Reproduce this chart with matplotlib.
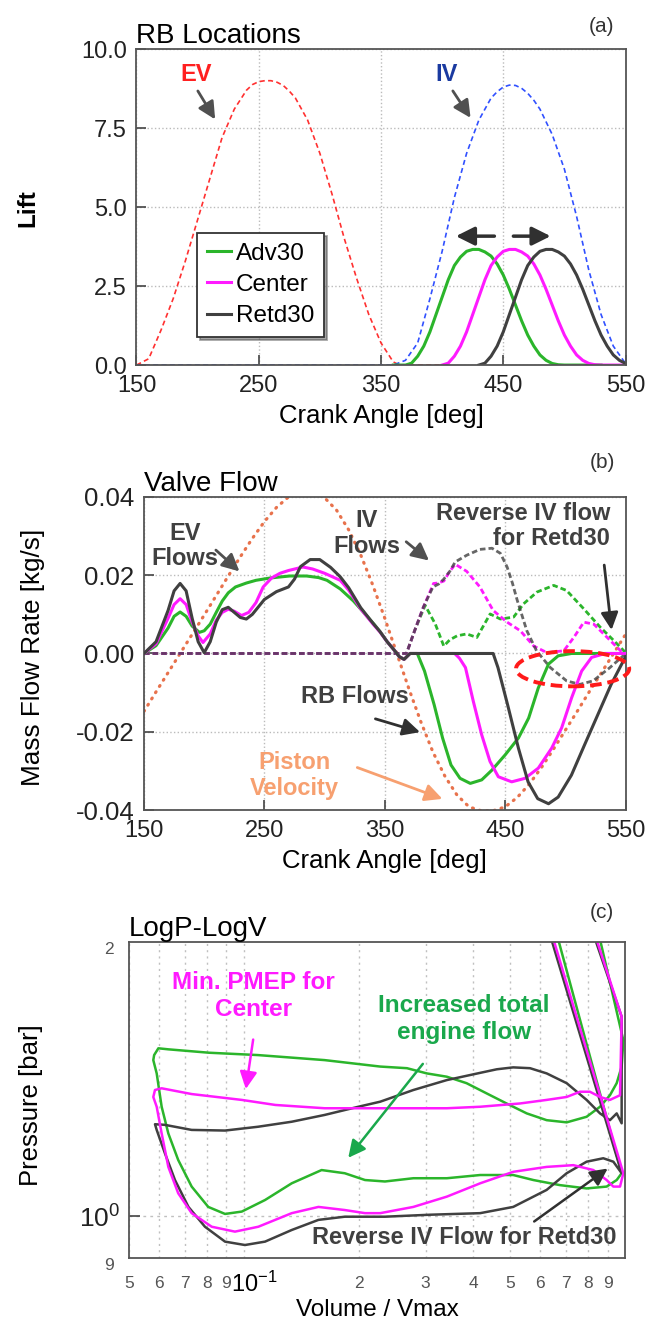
import matplotlib
matplotlib.use("Agg")
import matplotlib.pyplot as plt
from matplotlib.patches import Ellipse
from matplotlib.ticker import FixedLocator, FixedFormatter, NullFormatter

plt.rcParams["font.family"] = ["Liberation Sans", "DejaVu Sans"]
plt.rcParams["axes.unicode_minus"] = False

# ---- (a) valve lift vs crank angle ----
ev_ang = [150, 160, 170, 180, 190, 200, 210, 220, 230, 240, 245, 250, 255, 260, 265, 270,
          275, 280, 290, 300, 310, 320, 330, 340, 350, 360, 365, 380, 400]
ev_lift = [0, 0.2, 1.1, 2.1, 3.3, 4.6, 5.9, 7.2, 8.1, 8.7, 8.88, 8.97, 9.0, 9.0, 8.95,
           8.85, 8.67, 8.45, 7.75, 6.7, 5.4, 4.0, 2.75, 1.6, 0.7, 0.1, 0, 0, 0]
iv_ang = [150, 360, 370, 380, 390, 400, 410, 420, 430, 440, 445, 450, 455, 460, 465, 470,
          475, 480, 490, 500, 510, 520, 530, 540, 550]
iv_lift = [0, 0, 0.15, 0.7, 2.1, 3.6, 5.3, 6.7, 7.75, 8.45, 8.65, 8.8, 8.86, 8.85, 8.76,
           8.6, 8.38, 8.1, 7.3, 6.2, 4.7, 3.0, 1.6, 0.6, 0.05]

adv_ang = [360, 370, 375, 380, 385, 390, 395, 400, 405, 410, 415, 420, 425, 430, 435, 440,
           445, 450, 455, 460, 465, 470, 475, 480, 485, 490, 495, 500, 530]
adv_lift = [0, 0, 0.06, 0.28, 0.6, 1.05, 1.6, 2.15, 2.7, 3.15, 3.42, 3.6, 3.66, 3.66, 3.58,
            3.45, 3.2, 2.85, 2.4, 1.9, 1.4, 0.95, 0.6, 0.32, 0.15, 0.05, 0.01, 0, 0]
cen_ang = [400, 405, 410, 415, 420, 425, 430, 435, 440, 445, 450, 455, 460, 465, 470, 475,
           480, 485, 490, 495, 500, 505, 510, 515, 520, 525, 530, 550]
cen_lift = [0, 0.06, 0.28, 0.6, 1.05, 1.6, 2.15, 2.7, 3.15, 3.42, 3.6, 3.66, 3.66, 3.58,
            3.45, 3.2, 2.85, 2.4, 1.9, 1.4, 0.95, 0.6, 0.32, 0.15, 0.05, 0.01, 0, 0]
ret_ang = [430, 435, 440, 445, 450, 455, 460, 465, 470, 475, 480, 485, 490, 495, 500, 505,
           510, 515, 520, 525, 530, 535, 540, 545, 550]
ret_lift = [0, 0.06, 0.28, 0.6, 1.05, 1.6, 2.15, 2.7, 3.15, 3.42, 3.6, 3.66, 3.66, 3.58,
            3.45, 3.2, 2.85, 2.4, 1.9, 1.4, 0.95, 0.6, 0.32, 0.15, 0.05]

# ---- (b) exhaust valve flow (solid) ----
ev_adv_ang = [150, 160, 170, 175, 180, 185, 190, 196, 200, 205, 210, 215, 220, 226, 235,
              243, 255, 271, 285, 295, 302, 313, 324, 333, 341, 346, 352, 358, 362, 366,
              371, 377, 383, 391, 398, 405, 412.5, 421, 430.5, 439, 450, 461, 469.5,
              477.5, 486, 494, 505, 550]
ev_adv_flow = [0, 0.002, 0.0065, 0.0095, 0.0106, 0.0095, 0.007, 0.0054, 0.0058, 0.0075,
               0.0105, 0.0134, 0.0155, 0.017, 0.018, 0.0187, 0.0193, 0.0198, 0.0198,
               0.0194, 0.0187, 0.0165, 0.0134, 0.0103, 0.0075, 0.0056, 0.003, 0.0008,
               -0.0008, -0.0015, 0, 0, -0.0045, -0.0131, -0.0216, -0.0285, -0.0319,
               -0.0332, -0.0323, -0.0298, -0.0259, -0.0216, -0.0165, -0.0088, -0.0027,
               -0.0006, 0, 0]
ev_cen_ang = [150, 160, 170, 175, 180, 185, 190, 195, 199, 205, 210, 215, 220, 225, 231,
              237, 243, 249, 256, 263, 270, 282, 290, 300, 313, 320, 330, 340, 346, 352,
              358, 362, 366, 371, 408, 412, 417, 423.5, 430.5, 437.4, 444.3, 455.4, 466.5,
              477.5, 488.6, 496.9, 505.2, 513.5, 521.8, 533, 550]
ev_cen_flow = [0, 0.0025, 0.009, 0.0125, 0.014, 0.0125, 0.008, 0.0045, 0.0028, 0.005,
               0.0085, 0.0105, 0.0113, 0.0108, 0.0097, 0.0105, 0.013, 0.017, 0.0193,
               0.0205, 0.0212, 0.0221, 0.0216, 0.0205, 0.0187, 0.0162, 0.0114, 0.0076,
               0.0055, 0.003, 0.0008, -0.0008, -0.0015, 0, 0, -0.0012, -0.0036, -0.0122,
               -0.0208, -0.0276, -0.0315, -0.0328, -0.0319, -0.0293, -0.0242, -0.019,
               -0.0113, -0.0045, -0.001, 0, 0]
ev_ret_ang = [150, 160, 170, 175, 180, 185, 190, 195, 200, 205, 210, 215, 220, 225, 230,
              235, 240, 250, 260, 270, 275, 280, 288, 296, 305, 313, 320, 330, 340, 346,
              352, 358, 362, 366, 371, 440, 444, 452, 461, 469, 477, 486, 494, 505, 516,
              527, 538, 550]
ev_ret_flow = [0, 0.003, 0.011, 0.016, 0.0179, 0.016, 0.009, 0.003, 0.0002, 0.003, 0.008,
               0.0112, 0.0118, 0.0105, 0.0092, 0.0088, 0.010, 0.0138, 0.0158, 0.017,
               0.019, 0.0222, 0.024, 0.024, 0.022, 0.0196, 0.0168, 0.0117, 0.0078,
               0.0056, 0.003, 0.0008, -0.0008, -0.0015, 0, 0, -0.0036, -0.0131, -0.0242,
               -0.0328, -0.0371, -0.0384, -0.0367, -0.0311, -0.0233, -0.0156, -0.0079,
               -0.0008]

# ---- (b) intake valve flow (dashed) ----
iv_adv_ang = [150, 368, 375, 383.5, 392, 399, 404, 410, 418, 426.5, 437.5, 446, 457,
              465.3, 476.4, 490.3, 501, 515.3, 529, 540.2, 548.5, 550]
iv_adv_flow = [0, 0, 0.006, 0.0123, 0.0075, 0.0019, 0.0035, 0.0045, 0.005, 0.0041,
               0.0101, 0.0088, 0.0093, 0.0127, 0.0157, 0.0174, 0.0161, 0.0114, 0.0067,
               0.0033, 0.0007, 0]
iv_cen_ang = [150, 368, 375, 382, 390.5, 394, 399, 404, 408.5, 418, 429, 440, 451.6,
              462.6, 473.7, 484.8, 498.7, 507, 515.3, 523.6, 534.7, 545.8, 550]
iv_cen_flow = [0, 0, 0.006, 0.0118, 0.0179, 0.018, 0.0185, 0.021, 0.0228, 0.021, 0.017,
               0.011, 0.008, 0.0058, 0.0019, 0.0002, 0.0007, 0.0041, 0.008, 0.0075,
               0.0041, 0.0007, 0]
iv_ret_ang = [150, 368, 375, 382, 390, 395, 399, 404, 408.5, 418, 429, 439, 446, 451.6,
              456, 460, 468, 476, 487.5, 501, 512, 523, 537, 548, 550]
iv_ret_flow = [0, 0, 0.006, 0.0118, 0.017, 0.0178, 0.019, 0.021, 0.0234, 0.0251, 0.0266,
               0.0269, 0.0256, 0.0221, 0.018, 0.0136, 0.0058, 0.0007, -0.0036, -0.007,
               -0.0079, -0.007, -0.0036, -0.0006, 0]

# piston velocity (scaled to the flow axis)
pis_ang = [150, 160, 170, 180, 190, 200, 210, 220, 230, 240, 250, 260, 270, 280, 290,
           300, 310, 320, 330, 340, 350, 360, 370, 380, 390, 400, 410, 420, 430, 440,
           450, 460, 470, 480, 490, 500, 510, 520, 530, 540, 550]
pis_vel = [-0.0148, -0.0098, -0.0049, 0, 0.0049, 0.0098, 0.0148, 0.0198, 0.0247, 0.0294,
           0.0337, 0.0373, 0.040, 0.0415, 0.0415, 0.0398, 0.0366, 0.0316, 0.0252, 0.0175,
           0.009, 0, -0.009, -0.0175, -0.0252, -0.0314, -0.0362, -0.0392, -0.0402,
           -0.0402, -0.0392, -0.0368, -0.0334, -0.0292, -0.0245, -0.0196, -0.0147,
           -0.0097, -0.0049, 0, 0.0049]

# ---- (c) log P - log V loops (V/Vmax, bar) ----
adv_loop = [(0.84, 2.1), (0.99, 1.56), (0.98, 1.46), (0.951, 1.40), (0.913, 1.358),
            (0.86, 1.319), (0.793, 1.286), (0.703, 1.268), (0.623, 1.275), (0.5525, 1.297),
            (0.489, 1.33), (0.434, 1.364), (0.384, 1.40), (0.341, 1.423), (0.302, 1.435),
            (0.268, 1.454), (0.228, 1.46), (0.163, 1.484), (0.109, 1.503), (0.081, 1.512),
            (0.0634, 1.525), (0.0597, 1.529), (0.0582, 1.503), (0.0579, 1.484),
            (0.0591, 1.435), (0.0609, 1.319), (0.0634, 1.233), (0.0673, 1.153),
            (0.073, 1.078), (0.0807, 1.024), (0.0893, 1.006), (0.0988, 1.012),
            (0.1137, 1.042), (0.1336, 1.087), (0.160, 1.124), (0.184, 1.115), (0.208, 1.096),
            (0.2346, 1.092), (0.2785, 1.101), (0.341, 1.101), (0.417, 1.11), (0.509, 1.11),
            (0.575, 1.096), (0.675, 1.082), (0.793, 1.073), (0.895, 1.078), (0.951, 1.096),
            (0.98, 1.115), (0.65, 2.1)]
cen_loop = [(0.815, 2.1), (0.98, 1.656), (0.9704, 1.358), (0.913, 1.342), (0.86, 1.352),
            (0.809, 1.37), (0.762, 1.37), (0.703, 1.352), (0.623, 1.342), (0.5305, 1.33),
            (0.417, 1.319), (0.341, 1.314), (0.2785, 1.314), (0.228, 1.314), (0.163, 1.314),
            (0.121, 1.325), (0.0988, 1.342), (0.073, 1.362), (0.0609, 1.382), (0.0585, 1.376),
            (0.0579, 1.352), (0.0591, 1.319), (0.0609, 1.233), (0.0634, 1.133),
            (0.0673, 1.06), (0.073, 1.008), (0.0824, 0.974), (0.0948, 0.962), (0.1092, 0.974),
            (0.1336, 1.008), (0.157, 1.024), (0.184, 1.016), (0.208, 1.008), (0.228, 1.008),
            (0.2785, 1.024), (0.341, 1.051), (0.417, 1.087), (0.509, 1.119), (0.623, 1.133),
            (0.732, 1.138), (0.826, 1.124), (0.895, 1.096), (0.932, 1.078), (0.9704, 1.078),
            (0.99, 1.115), (0.63, 2.1)]
ret_loop = [(0.807, 2.1), (0.98, 1.656), (0.98, 1.265), (0.951, 1.297), (0.913, 1.275),
            (0.86, 1.297), (0.793, 1.342), (0.703, 1.40), (0.623, 1.435), (0.5635, 1.454),
            (0.509, 1.457), (0.461, 1.45), (0.417, 1.437), (0.341, 1.411), (0.2785, 1.376),
            (0.228, 1.336), (0.1998, 1.319), (0.163, 1.292), (0.1336, 1.27), (0.109, 1.254),
            (0.0893, 1.242), (0.073, 1.244), (0.0621, 1.26), (0.0585, 1.262), (0.0591, 1.244),
            (0.0621, 1.173), (0.066, 1.096), (0.0716, 1.024), (0.0791, 0.974),
            (0.0893, 0.938), (0.1007, 0.93), (0.1137, 0.938), (0.1336, 0.966), (0.157, 0.991),
            (0.184, 0.999), (0.2346, 0.999), (0.308, 1.004), (0.417, 1.008), (0.509, 1.024),
            (0.623, 1.069), (0.703, 1.115), (0.793, 1.148), (0.877, 1.158), (0.932, 1.148),
            (0.98, 1.115), (0.622, 2.1)]

cases = ["Adv30", "Center", "Retd30"]
GREEN, MAGENTA, GRAY = "#2bb52b", "#ff1aff", "#404040"

fig = plt.figure(figsize=(6.46, 13.27), dpi=100)


def style_axes(ax):
    for sp in ax.spines.values():
        sp.set_color("#555555")
        sp.set_linewidth(1.3)
    ax.tick_params(direction="in", length=7, width=1.2, color="#444444",
                   labelsize=17, pad=7, labelcolor="#222222")


# ================= (a) =================
ax1 = fig.add_axes([0.2113, 0.7249, 0.757, 0.2381])
style_axes(ax1)
ax1.plot(ev_ang, ev_lift, color="#ff3030", lw=1.2, dashes=(3, 2))
ax1.plot(iv_ang, iv_lift, color="#3050ff", lw=1.2, dashes=(3, 2))
ax1.plot(adv_ang, adv_lift, color=GREEN, lw=2.2, label=cases[0])
ax1.plot(cen_ang, cen_lift, color=MAGENTA, lw=2.2, label=cases[1])
ax1.plot(ret_ang, ret_lift, color=GRAY, lw=2.2, label=cases[2])
ax1.set_xlim(150, 550)
ax1.set_ylim(0, 10)
ax1.set_xticks([150, 250, 350, 450, 550])
ax1.set_yticks([0, 2.5, 5.0, 7.5, 10.0])
ax1.set_yticklabels(["0.0", "2.5", "5.0", "7.5", "10.0"])
ax1.grid(True, ls=":", color="#bbbbbb", lw=1)
ax1.set_xlabel("Crank Angle [deg]", fontsize=18.5, labelpad=5)
ax1.set_title("RB Locations", loc="left", fontsize=20, pad=4)
leg = ax1.legend(loc="upper left", bbox_to_anchor=(0.124, 0.418), borderaxespad=0,
                 fontsize=17.5, handlelength=1.0, handletextpad=0.2, labelspacing=0.38,
                 fancybox=False, shadow=True, borderpad=0.4)
leg.get_frame().set_edgecolor("#333333")
leg.get_frame().set_linewidth(1.3)
ax1.text(198.7, 9.2, "EV", color="#ff2020", fontsize=17, fontweight="bold", ha="center", va="center")
ax1.annotate("", xy=(215.5, 7.7), xytext=(199, 8.75),
             arrowprops=dict(arrowstyle="-|>", color="#505050", lw=2, mutation_scale=26))
ax1.text(404, 9.2, "IV", color="#1a3aa0", fontsize=17, fontweight="bold", ha="center", va="center")
ax1.annotate("", xy=(424.5, 7.75), xytext=(407.5, 8.75),
             arrowprops=dict(arrowstyle="-|>", color="#505050", lw=2, mutation_scale=26))
ax1.annotate("", xy=(409, 4.08), xytext=(445, 4.08),
             arrowprops=dict(arrowstyle="-|>", color="#303030", lw=2.5, mutation_scale=28))
ax1.annotate("", xy=(491, 4.08), xytext=(456, 4.08),
             arrowprops=dict(arrowstyle="-|>", color="#303030", lw=2.5, mutation_scale=28))

# ================= (b) =================
ax2 = fig.add_axes([0.2229, 0.3896, 0.7455, 0.2359])
style_axes(ax2)
ax2.tick_params(axis="y", labelsize=18.5)
ax2.plot(pis_ang, pis_vel, color="#e8724c", lw=2.3, dashes=(0.3, 2.0),
         dash_capstyle="round", zorder=2)
ax2.plot(iv_adv_ang, iv_adv_flow, color=GREEN, lw=2, dashes=(2, 1.1), zorder=3)
ax2.plot(iv_cen_ang, iv_cen_flow, color=MAGENTA, lw=2, dashes=(2, 1.1), zorder=3)
ax2.plot(iv_ret_ang, iv_ret_flow, color=GRAY, lw=2, dashes=(2, 1.1), alpha=0.8, zorder=3)
ax2.plot(ev_adv_ang, ev_adv_flow, color=GREEN, lw=2.2, zorder=4)
ax2.plot(ev_cen_ang, ev_cen_flow, color=MAGENTA, lw=2.2, zorder=4)
ax2.plot(ev_ret_ang, ev_ret_flow, color=GRAY, lw=2.2, zorder=4)
ax2.set_xlim(150, 550)
ax2.set_ylim(-0.04, 0.04)
ax2.set_xticks([150, 250, 350, 450, 550])
ax2.set_yticks([-0.04, -0.02, 0.0, 0.02, 0.04])
ax2.set_yticklabels(["-0.04", "-0.02", "0.00", "0.02", "0.04"])
ax2.grid(True, ls=":", color="#bbbbbb", lw=1)
ax2.set_xlabel("Crank Angle [deg]", fontsize=18.5, labelpad=5)
ax2.set_title("Valve Flow", loc="left", fontsize=20, pad=4)
ax2.add_patch(Ellipse((506, -0.0039), 94, 0.009, fill=False, edgecolor="#ff1a1a",
                      lw=2.8, ls=(0, (3, 1.5)), clip_on=False, zorder=6))

txt = dict(fontsize=17, fontweight="bold", color="#404040", ha="center", va="center",
           linespacing=1.15)
arr = dict(arrowstyle="-|>", color="#505050", lw=2, mutation_scale=26)
ax2.text(184, 0.0275, "EV\nFlows", **txt)
ax2.annotate("", xy=(231, 0.0205), xytext=(208, 0.0269), arrowprops=arr)
ax2.text(335, 0.0306, "IV\nFlows", **txt)
ax2.annotate("", xy=(388.5, 0.0233), xytext=(366, 0.029), arrowprops=arr)
ax2.text(537, 0.0326, "Reverse IV flow\nfor Retd30", fontsize=17, fontweight="bold",
         color="#404040", ha="right", va="center", multialignment="right", linespacing=1.15)
ax2.annotate("", xy=(538.6, 0.0053), xytext=(532, 0.0233),
             arrowprops=dict(arrowstyle="-|>", color="#303030", lw=2, mutation_scale=26))
ax2.text(325, -0.0109, "RB Flows", **txt)
ax2.annotate("", xy=(381.5, -0.0203), xytext=(340, -0.0165),
             arrowprops=dict(arrowstyle="-|>", color="#303030", lw=2, mutation_scale=26))
ax2.text(275, -0.0312, "Piston\nVelocity", fontsize=17, fontweight="bold", color="#f7a070",
         ha="center", va="center", linespacing=1.15)
ax2.annotate("", xy=(400, -0.0374), xytext=(325, -0.0289),
             arrowprops=dict(arrowstyle="-|>", color="#f7a070", lw=2, mutation_scale=26))

# ================= (c) =================
ax3 = fig.add_axes([0.1997, 0.052, 0.7678, 0.2381])
style_axes(ax3)
for loop, col in ((adv_loop, GREEN), (ret_loop, GRAY), (cen_loop, MAGENTA)):
    ax3.plot([v for v, p in loop], [p for v, p in loop], color=col, lw=1.8)
ax3.set_xscale("log")
ax3.set_yscale("log")
ax3.set_xlim(0.05, 1.0)
ax3.set_ylim(0.9, 2.0)

x_minor = [0.05, 0.06, 0.07, 0.08, 0.09, 0.2, 0.3, 0.4, 0.5, 0.6, 0.7, 0.8, 0.9]
x_minor_lbl = ["5", "6", "7", "8", "9", "2", "3", "4", "5", "6", "7", "8", "9"]
ax3.xaxis.set_major_locator(FixedLocator([0.1]))
ax3.xaxis.set_major_formatter(NullFormatter())
ax3.xaxis.set_minor_locator(FixedLocator(x_minor))
ax3.xaxis.set_minor_formatter(FixedFormatter(x_minor_lbl))
ax3.yaxis.set_major_locator(FixedLocator([1.0]))
ax3.yaxis.set_major_formatter(FixedFormatter([r"$\mathregular{10^{0}}$"]))
ax3.yaxis.set_minor_locator(FixedLocator([0.9, 2.0]))
ax3.yaxis.set_minor_formatter(FixedFormatter(["9", "2"]))
ax3.tick_params(axis="x", which="major", length=0)
ax3.tick_params(axis="y", which="major", length=8, labelsize=19, pad=6)
ax3.tick_params(which="minor", length=0, labelsize=12.5, labelcolor="#555555")
ax3.tick_params(axis="x", which="minor", pad=13)
ax3.tick_params(axis="y", which="minor", pad=11)
for lbl in ax3.yaxis.get_minorticklabels():
    lbl.set_va("top")
ax3.grid(True, which="both", axis="x", ls=(0, (1.5, 3)), color="#c0c0c0", lw=1)
ax3.grid(True, which="major", axis="y", ls=(0, (2, 3)), color="#c0c0c0", lw=1)
# the 10^-1 decade label sits low and to the right of its tick
ax3.annotate(r"$\mathregular{10^{-1}}$", xy=(0.1, 0), xycoords=("data", "axes fraction"),
             xytext=(-9, -10), textcoords="offset points", ha="left", va="top", fontsize=17)
ax3.set_xlabel("Volume / Vmax", fontsize=17.5, labelpad=6)
ax3.set_title("LogP-LogV", loc="left", fontsize=20, pad=3)

ax3.text(0.1061, 1.746, "Min. PMEP for\nCenter", fontsize=17.5, fontweight="bold",
         color="#ff1aff", ha="center", va="center", linespacing=1.2)
ax3.annotate("", xy=(0.101, 1.37), xytext=(0.1061, 1.574),
             arrowprops=dict(arrowstyle="-|>", color="#ff1aff", lw=1.8, mutation_scale=26))
ax3.text(0.378, 1.646, "Increased total\nengine flow", fontsize=17.5, fontweight="bold",
         color="#1aa84c", ha="center", va="center", linespacing=1.2)
ax3.annotate("", xy=(0.186, 1.153), xytext=(0.298, 1.478),
             arrowprops=dict(arrowstyle="-|>", color="#1aa84c", lw=1.8, mutation_scale=26))
ax3.text(0.378, 0.947, "Reverse IV Flow for Retd30", fontsize=17, fontweight="bold",
         color="#404040", ha="center", va="center")
ax3.annotate("", xy=(0.913, 1.133), xytext=(0.57, 0.983),
             arrowprops=dict(arrowstyle="-|>", color="#303030", lw=1.8, mutation_scale=26))

# axis labels and panel tags
fig.text(28 / 646, 1 - 208 / 1327, "Lift", rotation=90, fontsize=17.5, fontweight="bold",
         ha="center", va="center")
fig.text(33 / 646, 1 - 657 / 1327, "Mass Flow Rate [kg/s]", rotation=90, fontsize=18.8,
         ha="center", va="center")
fig.text(31 / 646, 1 - 1105 / 1327, "Pressure [bar]", rotation=90, fontsize=18.5,
         ha="center", va="center")
for y, tag in ((27, "(a)"), (462, "(b)"), (913, "(c)")):
    fig.text(602 / 646, 1 - y / 1327, tag, fontsize=15, color="#333333",
             ha="center", va="center")

fig.savefig("out.png", dpi=100)
